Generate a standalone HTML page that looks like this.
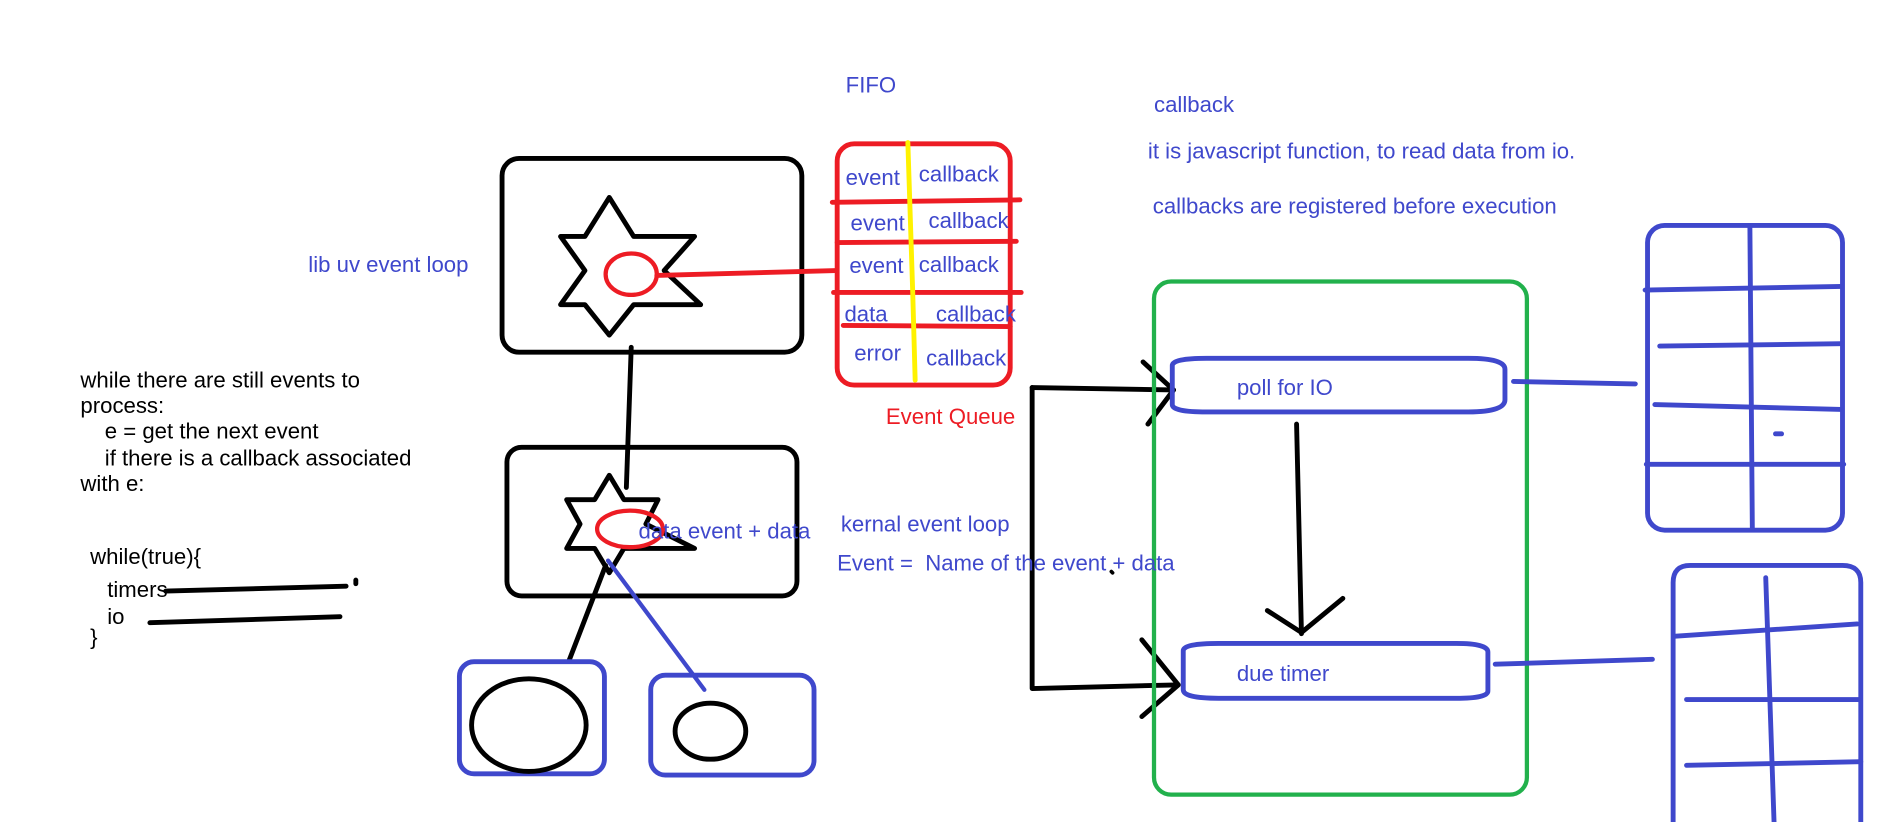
<!DOCTYPE html>
<html><head><style>html,body{margin:0;padding:0;background:#fff;width:1901px;height:822px;overflow:hidden}</style></head>
<body>
<svg width="1901" height="822" viewBox="0 0 1560 674.5" preserveAspectRatio="none" xmlns="http://www.w3.org/2000/svg" font-family="Liberation Sans, Arial, sans-serif" font-size="18.2">
<g fill="none" stroke-linecap="round" stroke-linejoin="round">
<rect x="412" y="130" width="246" height="159" rx="14" stroke="#000" stroke-width="4"/>
<polygon points="500,162 520,194 570,194 545,222 575,250 520,250 500,275 480,250 460,250 480,222 460,194 480,194" stroke="#000" stroke-width="4"/>
<ellipse cx="518" cy="225" rx="21" ry="17" stroke="#ed1c24" stroke-width="3.5"/>
<line x1="539" y1="226" x2="686" y2="222" stroke="#ed1c24" stroke-width="4"/>
<line x1="518" y1="285" x2="514" y2="400" stroke="#000" stroke-width="4"/>
<rect x="416" y="367" width="238" height="122" rx="12" stroke="#000" stroke-width="4"/>
<polygon points="500,390 512,410 540,410 530,430 570,450 512,450 500,470 488,450 465,450 476,430 465,410 488,410" stroke="#000" stroke-width="4"/>
<ellipse cx="517" cy="434" rx="27" ry="15" stroke="#ed1c24" stroke-width="3.5"/>
<line x1="497" y1="464" x2="467" y2="542" stroke="#000" stroke-width="4"/>
<line x1="499" y1="460" x2="578" y2="566" stroke="#3f48cc" stroke-width="3.5"/>
<rect x="377" y="543" width="119" height="92" rx="12" stroke="#3f48cc" stroke-width="4"/>
<ellipse cx="434" cy="595" rx="47" ry="38" stroke="#000" stroke-width="4"/>
<rect x="534" y="554" width="134" height="82" rx="12" stroke="#3f48cc" stroke-width="4"/>
<ellipse cx="583" cy="600" rx="29" ry="23" stroke="#000" stroke-width="4"/>
<rect x="687" y="118" width="142" height="198" rx="14" stroke="#ed1c24" stroke-width="4"/>
<line x1="683" y1="166" x2="837" y2="164" stroke="#ed1c24" stroke-width="4"/>
<line x1="687" y1="199" x2="834" y2="198" stroke="#ed1c24" stroke-width="4"/>
<line x1="684" y1="240" x2="838" y2="240" stroke="#ed1c24" stroke-width="4"/>
<line x1="692" y1="267" x2="829" y2="268" stroke="#ed1c24" stroke-width="4"/>
<path d="M745,117 L749,240 L751,312" stroke="#fff200" stroke-width="4"/>
<path d="M847,318 L847,565 L965,562" stroke="#000" stroke-width="4"/>
<path d="M847,318 L963,320" stroke="#000" stroke-width="4"/>
<path d="M938,297 L963,320 L942,348" stroke="#000" stroke-width="4"/>
<path d="M937,525 L967,562 L937,588" stroke="#000" stroke-width="4"/>
<rect x="947" y="231" width="306" height="421" rx="14" stroke="#22b14c" stroke-width="3.5"/>
<path d="M962,300 Q962,294 990,294 L1205,294 Q1235,294 1235,303 L1235,328 Q1235,338 1205,338 L990,338 Q962,338 962,332 Z" stroke="#3f48cc" stroke-width="4"/>
<path d="M971,534 Q971,528 1000,528 L1195,528 Q1221,528 1221,535 L1221,567 Q1221,573 1195,573 L1000,573 Q971,573 971,566 Z" stroke="#3f48cc" stroke-width="4"/>
<line x1="1064" y1="348" x2="1068" y2="520" stroke="#000" stroke-width="4"/>
<path d="M1040,501 L1068,519 L1102,491" stroke="#000" stroke-width="4"/>
<line x1="1242" y1="313" x2="1342" y2="315" stroke="#3f48cc" stroke-width="4"/>
<line x1="1227" y1="545" x2="1356" y2="541" stroke="#3f48cc" stroke-width="4"/>
<rect x="1352" y="185" width="160" height="250" rx="14" stroke="#3f48cc" stroke-width="4"/>
<line x1="1436" y1="186" x2="1438" y2="434" stroke="#3f48cc" stroke-width="4"/>
<line x1="1350" y1="238" x2="1511" y2="235" stroke="#3f48cc" stroke-width="4"/>
<line x1="1362" y1="284" x2="1511" y2="282" stroke="#3f48cc" stroke-width="4"/>
<line x1="1358" y1="332" x2="1511" y2="336" stroke="#3f48cc" stroke-width="4"/>
<line x1="1351" y1="381" x2="1513" y2="381" stroke="#3f48cc" stroke-width="4"/>
<line x1="1457" y1="356" x2="1462" y2="356" stroke="#3f48cc" stroke-width="4"/>
<path d="M1373,680 L1373,478 Q1373,464 1387,464 L1512,464 Q1527,464 1527,478 L1527,680" stroke="#3f48cc" stroke-width="4"/>
<line x1="1449" y1="474" x2="1456" y2="680" stroke="#3f48cc" stroke-width="4"/>
<line x1="1375" y1="522" x2="1524" y2="512" stroke="#3f48cc" stroke-width="4"/>
<line x1="1384" y1="574" x2="1525" y2="574" stroke="#3f48cc" stroke-width="4"/>
<line x1="1384" y1="628" x2="1527" y2="625" stroke="#3f48cc" stroke-width="4"/>
<line x1="136" y1="485" x2="284" y2="481" stroke="#000" stroke-width="4"/>
<line x1="123" y1="511" x2="279" y2="506" stroke="#000" stroke-width="4"/>
<line x1="292" y1="476" x2="292" y2="479" stroke="#000" stroke-width="4"/>
<line x1="912" y1="469" x2="913" y2="470" stroke="#000" stroke-width="3"/>
</g>
<g fill="#3f48cc">
<text x="694" y="76">FIFO</text>
<text x="253" y="223">lib uv event loop</text>
<text x="694" y="152">event</text><text x="754" y="149">callback</text>
<text x="698" y="189">event</text><text x="762" y="187">callback</text>
<text x="697" y="224">event</text><text x="754" y="223">callback</text>
<text x="693" y="264">data</text><text x="768" y="264">callback</text>
<text x="701" y="296">error</text><text x="760" y="300">callback</text>
<text x="947" y="92">callback</text>
<text x="942" y="130">it is javascript function, to read data from io.</text>
<text x="946" y="175">callbacks are registered before execution</text>
<text x="524" y="442">data event + data</text>
<text x="690" y="436">kernal event loop</text>
<text x="687" y="468" xml:space="preserve">Event =  Name of the event + data</text>
<text x="1015" y="324">poll for IO</text>
<text x="1015" y="559">due timer</text>
</g>
<text x="727" y="348" fill="#ed1c24">Event Queue</text>
<g fill="#000">
<text x="66" y="318">while there are still events to</text>
<text x="66" y="339">process:</text>
<text x="86" y="360">e = get the next event</text>
<text x="86" y="382">if there is a callback associated</text>
<text x="66" y="403">with e:</text>
<text x="74" y="463">while(true){</text>
<text x="88" y="490">timers</text>
<text x="88" y="512">io</text>
<text x="74" y="529">}</text>
</g>
</svg>
</body></html>
